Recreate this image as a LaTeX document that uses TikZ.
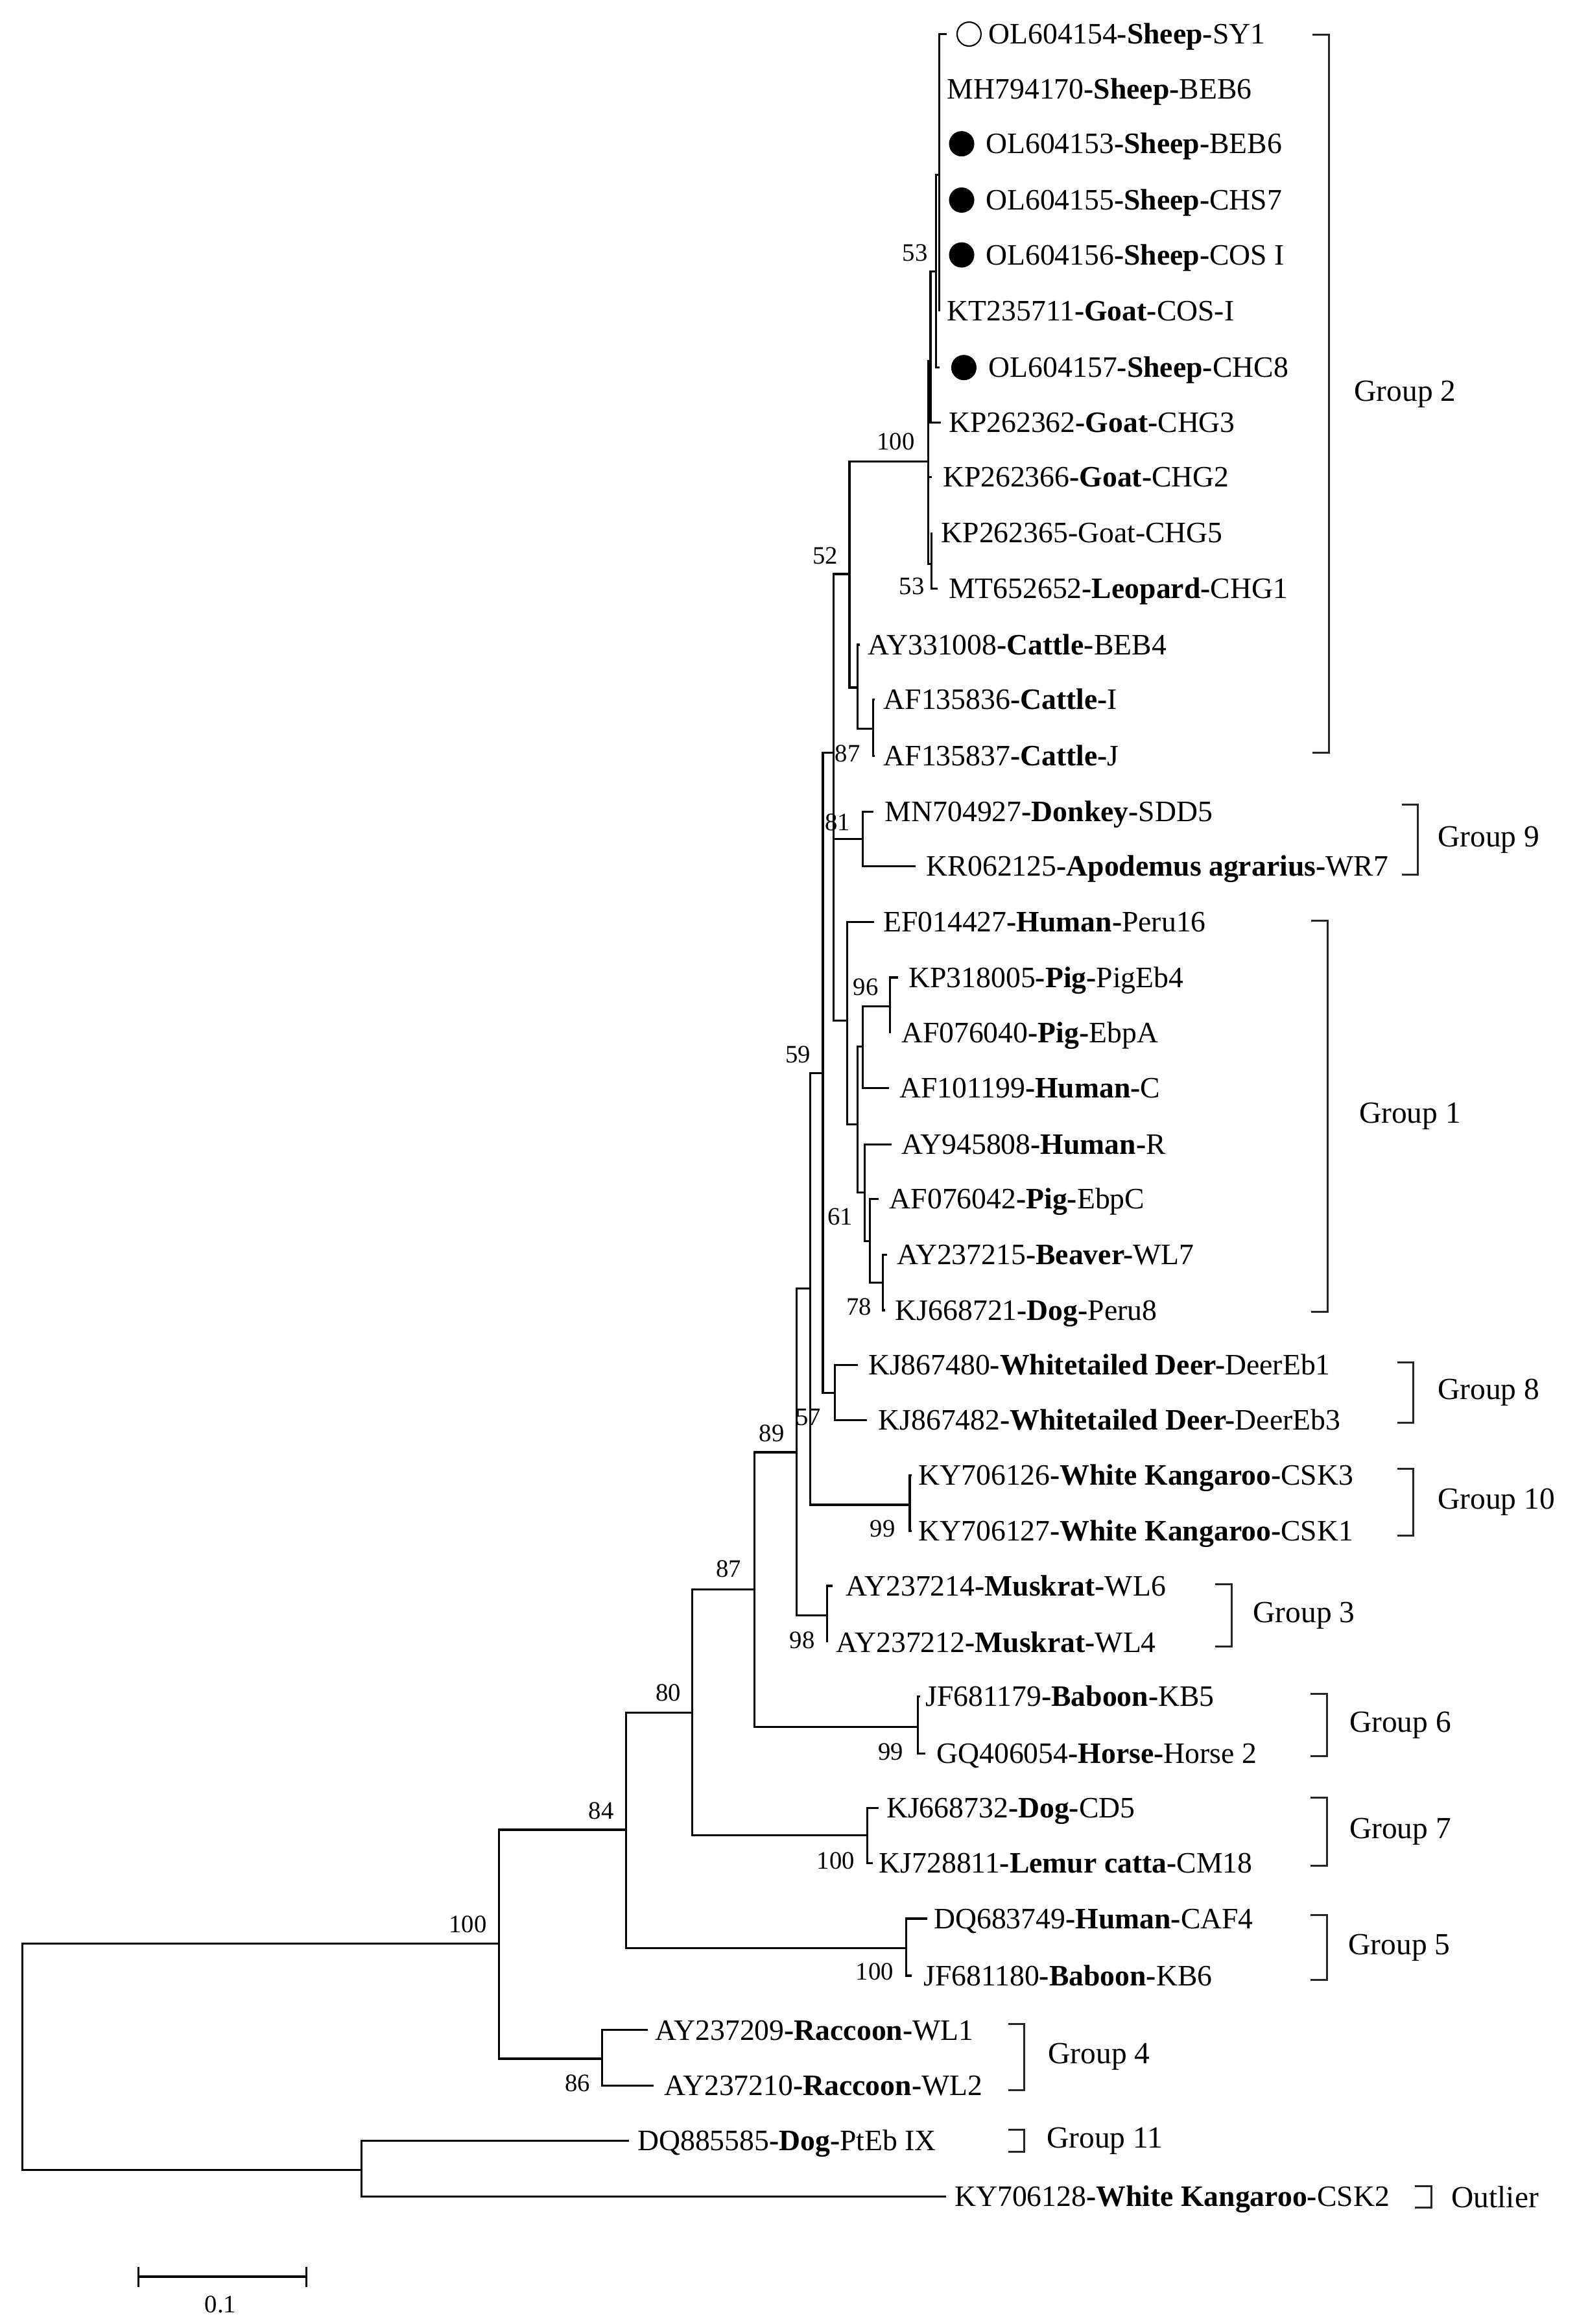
\documentclass[tikz,border=0pt]{standalone}
\usepackage{fontspec}
\setmainfont{Liberation Serif}
\tikzset{
    branch/.style={line width=0.9pt},
    bracket/.style={line width=0.85pt, black!85},
    leaflab/.style={anchor=west, inner sep=0pt, text height=8.6pt, text depth=0pt, font=\fontsize{13}{15}\selectfont},
    bootlab/.style={inner sep=0pt, font=\fontsize{11}{13}\selectfont},
    grouplab/.style={anchor=west, inner sep=0pt, font=\fontsize{13.5}{16}\selectfont},
    fulldot/.style={circle, fill=black, inner sep=0pt, minimum size=3.9mm},
    opendot/.style={circle, draw=black, line width=0.6pt, inner sep=0pt, minimum size=3.7mm},
}
\newcommand{\leaf}[5]{
    \coordinate (#1) at (#3, #2);
    \node[leaflab] (#1-lab) at (#4, #2) {#5};
}
\newcommand{\branches}[2]{
    \foreach \kid in {#2} {
        \draw[branch] (#1) |- (\kid);
    }
}
\newcommand{\cladebracket}[6]{
    \coordinate (#1-a) at (#2-11, #3);
    \coordinate (#1-b) at (#2, #3);
    \coordinate (#1-c) at (#2, #4);
    \coordinate (#1-d) at (#2-11, #4);
    \draw[bracket] (#1-a) -- (#1-b) -- (#1-c) -- (#1-d);
    \node[grouplab] (#1-lab) at (#5, {(#3+#4)/2}) {#6};
}

\begin{document}
\begin{tikzpicture}[x=0.2285mm, y=-0.2285mm]
    \useasboundingbox (0,0) rectangle (1064,1568);

    %% Leaves
    % group 2
    \leaf{s1}{23}{639}{667}{OL604154\textbf{-Sheep-}SY1}
    \leaf{s2}{60}{633.8}{639}{MH794170\textbf{-Sheep-}BEB6}
    \leaf{s3}{97}{633.8}{665}{OL604153\textbf{-Sheep-}BEB6}
    \leaf{s4}{135}{633.8}{665}{OL604155\textbf{-Sheep-}CHS7}
    \leaf{s5}{172}{633.8}{665}{OL604156\textbf{-Sheep-}COS I}
    \leaf{s6}{210}{633.8}{639}{KT235711\textbf{-Goat-}COS-I}
    \leaf{s7}{248}{634}{667}{OL604157\textbf{-Sheep-}CHC8}
    \leaf{g8}{285}{634.8}{640}{KP262362\textbf{-Goat-}CHG3}
    \leaf{g9}{322}{629}{636}{KP262366\textbf{-Goat-}CHG2}
    \leaf{g10}{359.5}{628.5}{635}{KP262365-Goat-CHG5}
    \leaf{g11}{397}{633}{640}{MT652652\textbf{-Leopard-}CHG1}
    \leaf{c12}{435}{580.3}{585.5}{AY331008\textbf{-Cattle-}BEB4}
    \leaf{c13}{472}{590.5}{596}{AF135836\textbf{-Cattle-}I}
    \leaf{c14}{510}{590.5}{596}{AF135837\textbf{-Cattle-}J}
    % group 9
    \leaf{d15}{547.5}{589.4}{597}{MN704927\textbf{-Donkey-}SDD5}
    \leaf{d16}{584.5}{617.8}{625}{KR062125\textbf{-Apodemus agrarius-}WR7}
    % group 1
    \leaf{h17}{622}{590}{595.8}{EF014427\textbf{-Human-}Peru16}
    \leaf{p18}{659.5}{606}{613}{KP318005\textbf{-Pig-}PigEb4}
    \leaf{p19}{697}{600.8}{608}{AF076040\textbf{-Pig-}EbpA}
    \leaf{h20}{734}{600}{606.8}{AF101199\textbf{-Human-}C}
    \leaf{h21}{772}{601.7}{608.3}{AY945808\textbf{-Human-}R}
    \leaf{p22}{809}{593}{600}{AF076042\textbf{-Pig-}EbpC}
    \leaf{b23}{846.5}{598.8}{605}{AY237215\textbf{-Beaver-}WL7}
    \leaf{d24}{884}{597.5}{604}{KJ668721\textbf{-Dog-}Peru8}
    % groups 8, 10, 3, 6, 7, 5, 4, 11
    \leaf{w25}{921}{579}{585.7}{KJ867480\textbf{-Whitetailed Deer-}DeerEb1}
    \leaf{w26}{958}{585}{592.5}{KJ867482\textbf{-Whitetailed Deer-}DeerEb3}
    \leaf{k27}{995.5}{615.5}{619.6}{KY706126\textbf{-White Kangaroo-}CSK3}
    \leaf{k28}{1033}{615.5}{619.6}{KY706127\textbf{-White Kangaroo-}CSK1}
    \leaf{m29}{1070}{562}{570.6}{AY237214\textbf{-Muskrat-}WL6}
    \leaf{m30}{1108}{558.3}{564}{AY237212\textbf{-Muskrat-}WL4}
    \leaf{a31}{1144.5}{621}{624.4}{JF681179\textbf{-Baboon-}KB5}
    \leaf{a32}{1183}{624.4}{631.8}{GQ406054\textbf{-Horse-}Horse 2}
    \leaf{l33}{1220}{592.8}{598}{KJ668732\textbf{-Dog-}CD5}
    \leaf{l34}{1257}{589}{593}{KJ728811\textbf{-Lemur catta-}CM18}
    \leaf{f35}{1294.5}{625.7}{630}{DQ683749\textbf{-Human-}CAF4}
    \leaf{f36}{1333}{615.5}{623}{JF681180\textbf{-Baboon-}KB6}
    \leaf{r37}{1369.7}{437.2}{442}{AY237209\textbf{-Raccoon-}WL1}
    \leaf{r38}{1407}{440.9}{448}{AY237210\textbf{-Raccoon-}WL2}
    \leaf{o39}{1444.5}{424.5}{430}{DQ885585\textbf{-Dog-}PtEb IX}
    \leaf{o40}{1482}{638.3}{644}{KY706128\textbf{-White Kangaroo-}CSK2}

    %% Internal nodes
    \coordinate (root) at (15.2,1387);
    \coordinate (n100) at (336.7,1311.3);
    \coordinate (nOut) at (243.8,1464);
    \coordinate (n84) at (422.7,1234.5);
    \coordinate (nRac) at (406.4,1389);
    \coordinate (n80) at (467.3,1155.7);
    \coordinate (nG5) at (611.5,1314.3);
    \coordinate (n87) at (509.3,1072.5);
    \coordinate (nG7) at (585.4,1238.3);
    \coordinate (n89) at (537.6,979.8);
    \coordinate (nG6) at (619.6,1165);
    \coordinate (n57) at (546.7,869.5);
    \coordinate (nMus) at (558.3,1089.8);
    \coordinate (n59) at (555.3,724);
    \coordinate (nKan) at (614,1015.3);
    \coordinate (nQ) at (562.4,507.7);
    \coordinate (nDeer) at (563.3,939.8);
    \coordinate (n52) at (573.3,387.3);
    \coordinate (n81) at (582.1,566);
    \coordinate (nG1) at (571.6,688.6);
    \coordinate (n100b) at (626.5,311.4);
    \coordinate (nCat) at (578.9,463.9);
    \coordinate (n87b) at (589.4,491.6);
    \coordinate (nG1b) at (578.9,758.6);
    \coordinate (nPA) at (582.1,706);
    \coordinate (n96) at (600.8,679);
    \coordinate (nG1c) at (583.5,804.7);
    \coordinate (n61) at (586.9,837.3);
    \coordinate (n78) at (595.9,865.4);
    \coordinate (nG2a) at (628,243.5);
    \coordinate (n53s) at (631.6,183.3);
    \coordinate (sheep) at (633.8,118);
    \coordinate (n53b) at (628.5,380.4);

    %% Branches
    \branches{root}{n100,nOut}
    \branches{n100}{n84,nRac}
    \branches{n84}{n80,nG5}
    \branches{n80}{n87,nG7}
    \branches{n87}{n89,nG6}
    \branches{n89}{n57,nMus}
    \branches{n57}{n59,nKan}
    \branches{n59}{nQ,nDeer}
    \branches{nQ}{n52,n81,nG1}
    \branches{n52}{n100b,nCat}
    \branches{n100b}{nG2a,g9,n53b}
    \branches{nG2a}{n53s,g8}
    \branches{n53s}{sheep,s7}
    \branches{sheep}{s1,s2,s3,s4,s5,s6}
    \branches{n53b}{g10,g11}
    \branches{nCat}{c12,n87b}
    \branches{n87b}{c13,c14}
    \branches{n81}{d15,d16}
    \branches{nG1}{h17,nG1b}
    \branches{nG1b}{nPA,nG1c}
    \branches{nPA}{n96,h20}
    \branches{n96}{p18,p19}
    \branches{nG1c}{h21,n61}
    \branches{n61}{p22,n78}
    \branches{n78}{b23,d24}
    \branches{nDeer}{w25,w26}
    \branches{nKan}{k27,k28}
    \branches{nMus}{m29,m30}
    \branches{nG6}{a31,a32}
    \branches{nG7}{l33,l34}
    \branches{nG5}{f35,f36}
    \branches{nRac}{r37,r38}
    \branches{nOut}{o39,o40}

    %% Markers
    \node[opendot] (mk1) at (654,23) {};
    \node[fulldot] (mk3) at (649,97) {};
    \node[fulldot] (mk4) at (649,135) {};
    \node[fulldot] (mk5) at (649,172) {};
    \node[fulldot] (mk7) at (650.5,248) {};

    %% Bootstrap values
    \node[bootlab] (bs-n53s) at (617.5,170.7) {53};
    \node[bootlab] (bs-n100b) at (604.5,298) {100};
    \node[bootlab] (bs-n53b) at (615.3,395.5) {53};
    \node[bootlab] (bs-n52) at (557,375) {52};
    \node[bootlab] (bs-n87b) at (572,508.4) {87};
    \node[bootlab] (bs-n81) at (565.3,555) {81};
    \node[bootlab] (bs-n59) at (538.5,711.5) {59};
    \node[bootlab] (bs-n96) at (584.3,666) {96};
    \node[bootlab] (bs-n61) at (567,821) {61};
    \node[bootlab] (bs-n78) at (579.8,881.8) {78};
    \node[bootlab] (bs-n57) at (545.6,956) {57};
    \node[bootlab] (bs-n89) at (520.8,967) {89};
    \node[bootlab] (bs-nKan) at (595.6,1031.2) {99};
    \node[bootlab] (bs-n87) at (491.6,1058.5) {87};
    \node[bootlab] (bs-nMus) at (541.4,1106.5) {98};
    \node[bootlab] (bs-nG6) at (601.2,1181.9) {99};
    \node[bootlab] (bs-nG7) at (564,1255.3) {100};
    \node[bootlab] (bs-n80) at (451,1142) {80};
    \node[bootlab] (bs-n84) at (405.8,1221.6) {84};
    \node[bootlab] (bs-n100) at (315.7,1298.4) {100};
    \node[bootlab] (bs-nRac) at (389.7,1405.4) {86};
    \node[bootlab] (bs-nG5) at (590.2,1330.1) {100};

    %% Group brackets
    \cladebracket{grp2}{896.7}{23.6}{508}{913.7}{Group 2}
    \cladebracket{grp9}{957}{543}{590}{970}{Group 9}
    \cladebracket{grp1}{896}{621}{885}{917}{Group 1}
    \cladebracket{grp8}{954}{919}{960}{970}{Group 8}
    \cladebracket{grp10}{954}{991}{1036}{970}{Group 10}
    \cladebracket{grp3}{831.3}{1069}{1111}{845.4}{Group 3}
    \cladebracket{grp6}{895.6}{1143}{1185}{910.4}{Group 6}
    \cladebracket{grp7}{895.6}{1213}{1258.6}{910.4}{Group 7}
    \cladebracket{grp5}{895.6}{1292}{1336}{909.8}{Group 5}
    \cladebracket{grp4}{691.4}{1365.4}{1410.2}{707.2}{Group 4}
    \cladebracket{grp11}{691.4}{1436.8}{1452}{706.2}{Group 11}
    \cladebracket{outl}{966}{1475}{1489.3}{979.3}{Outlier}

    %% Scale bar
    \coordinate (sb-l) at (93.3,1536);
    \coordinate (sb-r) at (206.8,1536);
    \coordinate (sb-lt) at (93.3,1529.5);
    \coordinate (sb-lb) at (93.3,1543);
    \coordinate (sb-rt) at (206.8,1529.5);
    \coordinate (sb-rb) at (206.8,1543);
    \draw[branch] (sb-l) -- (sb-r);
    \draw[branch] (sb-lt) -- (sb-lb);
    \draw[branch] (sb-rt) -- (sb-rb);
    \node[bootlab] (sb-lab) at (148.8,1555) {0.1};

\end{tikzpicture}
\end{document}
